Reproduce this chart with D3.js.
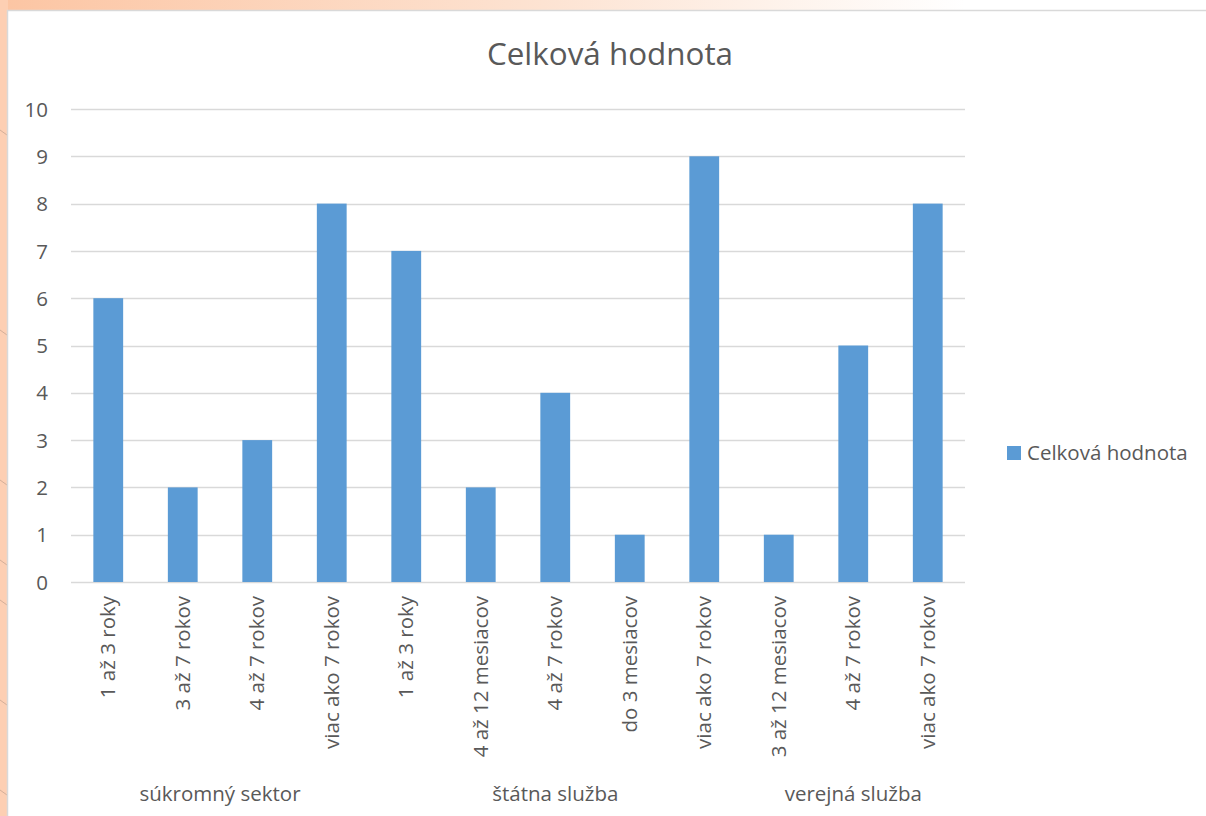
<!DOCTYPE html>
<html><head><meta charset="utf-8">
<script src="https://cdn.jsdelivr.net/npm/d3@7/dist/d3.min.js"></script>
<style>body{margin:0;background:#fff;}svg{display:block;}</style>
</head><body>
<script>
const title = "Celková hodnota";
const seriesName = "Celková hodnota";
const groups = ["súkromný sektor", "štátna služba", "verejná služba"];
const categories = ["1 až 3 roky","3 až 7 rokov","4 až 7 rokov","viac ako 7 rokov",
  "1 až 3 roky","4 až 12 mesiacov","4 až 7 rokov","do 3 mesiacov","viac ako 7 rokov",
  "3 až 12 mesiacov","4 až 7 rokov","viac ako 7 rokov"];
const categoryGroup = [0,0,0,0,1,1,1,1,1,2,2,2];
const values = [6,2,3,8,7,2,4,1,9,1,5,8];
const yTicks = [0,1,2,3,4,5,6,7,8,9,10];

const W = 1206, H = 816;
const font = "'Open Sans', Lato, sans-serif";
const txt = "#595959";
const fs = 20.5;
const svg = d3.select("body").append("svg").attr("width", W).attr("height", H);

// background frame
const defs = svg.append("defs");
const lg = defs.append("linearGradient").attr("id","topg").attr("x1","0").attr("x2","1").attr("y1","0").attr("y2","0");
lg.append("stop").attr("offset","0").attr("stop-color","#fcc5a3");
lg.append("stop").attr("offset","0.45").attr("stop-color","#fde3d2");
lg.append("stop").attr("offset","0.8").attr("stop-color","#ffffff");
svg.append("rect").attr("x",0).attr("y",0).attr("width",W).attr("height",H).attr("fill","#ffffff");
svg.append("rect").attr("x",0).attr("y",0).attr("width",W).attr("height",11).attr("fill","url(#topg)");
svg.append("rect").attr("x",0).attr("y",0).attr("width",8).attr("height",H).attr("fill","#fdcfb3");
const deco = [130, 330, 480, 560, 600, 700, 790];
svg.selectAll("line.deco").data(deco).enter().append("line")
  .attr("x1",0).attr("x2",7).attr("y1",d=>d).attr("y2",d=>d+5)
  .attr("stroke","#b99a88").attr("stroke-width",1).attr("opacity",0.6);
svg.append("rect").attr("x",7.5).attr("y",10.5).attr("width",W).attr("height",H)
  .attr("fill","#ffffff").attr("stroke","#d9d9d9").attr("stroke-width",1.5);

// scales
const x = d3.scaleBand().domain(d3.range(categories.length)).range([71,965]).paddingInner(0.6).paddingOuter(0.3);
const y = d3.scaleLinear().domain([0,10]).range([582,109]);

// gridlines
svg.append("g").selectAll("line").data(yTicks).enter().append("line")
  .attr("x1",71).attr("x2",965).attr("y1",d=>Math.round(y(d))+0.5).attr("y2",d=>Math.round(y(d))+0.5)
  .attr("stroke","#d9d9d9").attr("stroke-width",1.3);

// y axis labels
const yAxis = d3.axisLeft(y).tickValues(yTicks).tickSize(0).tickPadding(0);
const ga = svg.append("g").attr("transform","translate(48,0)").call(yAxis);
ga.select(".domain").remove();
ga.selectAll("text").attr("font-family",font).attr("font-size",fs).attr("fill",txt).attr("dy","0.35em");

// bars
svg.append("g").selectAll("rect").data(values).enter().append("rect")
  .attr("x",(d,i)=>x(i)).attr("width",x.bandwidth())
  .attr("y",d=>y(d)).attr("height",d=>y(0)-y(d))
  .attr("fill","#5b9bd5");

// category labels
svg.append("g").selectAll("text").data(categories).enter().append("text")
  .attr("transform",(d,i)=>`translate(${x(i)+x.bandwidth()/2},596) rotate(-90)`)
  .attr("text-anchor","end").attr("dy","0.35em")
  .attr("font-family",font).attr("font-size",fs).attr("fill",txt).text(d=>d);

// group labels
svg.append("g").selectAll("text").data(groups).enter().append("text")
  .attr("x",(g,gi)=>{
    const idx = d3.range(categories.length).filter(i=>categoryGroup[i]===gi);
    return (x(idx[0]) - x.step()*x.paddingInner()/2 + x(idx[idx.length-1]) + x.bandwidth() + x.step()*x.paddingInner()/2)/2;
  })
  .attr("y",801).attr("text-anchor","middle")
  .attr("font-family",font).attr("font-size",fs).attr("fill",txt).text(d=>d);

// title
svg.append("text").attr("x",610).attr("y",65).attr("text-anchor","middle")
  .attr("font-family",font).attr("font-size",31.4).attr("fill",txt).text(title);

// legend
svg.append("rect").attr("x",1007).attr("y",446).attr("width",14).attr("height",14).attr("fill","#5b9bd5");
svg.append("text").attr("x",1027).attr("y",460)
  .attr("font-family",font).attr("font-size",fs).attr("fill",txt).text(seriesName);
</script>
</body></html>
